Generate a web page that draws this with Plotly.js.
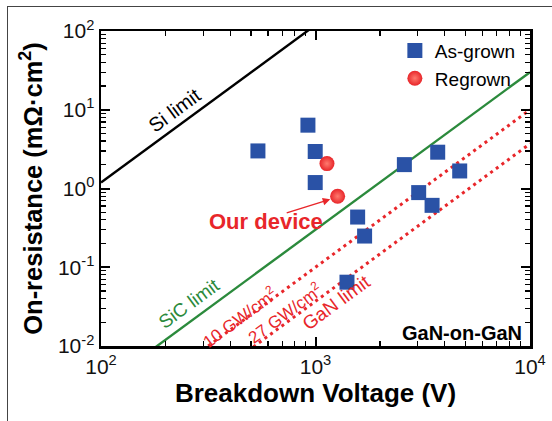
<!DOCTYPE html>
<html>
<head>
<meta charset="utf-8">
<script src="https://cdn.plot.ly/plotly-3.0.1.min.js"></script>
<style>
  html, body { margin: 0; padding: 0; background: #ffffff; }
  #wrap { position: relative; width: 552px; height: 421px; overflow: hidden; }
  #chart { position: absolute; left: 0; top: 0; width: 552px; height: 421px; }
  #frame { position: absolute; left: 7px; top: 6px; width: 600px; height: 500px;
           border-left: 1.5px solid #444; border-top: 1.5px solid #444; pointer-events: none; }
</style>
</head>
<body>
<div id="wrap">
  <div id="chart"></div>
  <div id="frame"></div>
</div>
<script>
// ---- data ----
const limitV = [100, 10000];               // breakdown voltage span of the limit lines (V)
const siLimit = [1.19, 11900];             // Si limit, mΩ·cm²
const sicLimit = [0.003, 30];              // SiC limit
const gan10 = [0.001, 10];                 // 10 GW/cm² line
const gan27 = [0.00037, 3.7];              // 27 GW/cm² (GaN limit)

const asGrownV = [539, 922, 997, 997, 1572, 1694, 1402, 2596, 3713, 3027, 3495, 4702];
const asGrownR = [3.0, 6.37, 2.95, 1.19, 0.434, 0.249, 0.0646, 2.01, 2.89, 0.887, 0.611, 1.67];
const regrownV = [1131, 1268];
const regrownR = [2.07, 0.796];

const tickVals = [0.01, 0.1, 1, 10, 100];
const yTickText = ['10<sup>-2</sup>', '10<sup>-1</sup>', '10<sup>0</sup>', '10<sup>1</sup>', '10<sup>2</sup>'];
const xTickVals = [100, 1000, 10000];
const xTickText = ['10<sup>2</sup>', '10<sup>3</sup>', '10<sup>4</sup>'];

const FONT = 'Liberation Sans, Arial, Helvetica, sans-serif';
const RED = '#e8262a';
const BLUE = '#2a52a6';
const GREEN = '#2b8a3c';

const traces = [
  { x: limitV, y: siLimit, mode: 'lines', line: { color: '#000', width: 2.4 }, showlegend: false, hoverinfo: 'skip' },
  { x: limitV, y: sicLimit, mode: 'lines', line: { color: GREEN, width: 2.4 }, showlegend: false, hoverinfo: 'skip' },
  { x: limitV, y: gan10, mode: 'lines', line: { color: RED, width: 3, dash: '3px,4px' }, showlegend: false, hoverinfo: 'skip' },
  { x: limitV, y: gan27, mode: 'lines', line: { color: RED, width: 3, dash: '3px,4px' }, showlegend: false, hoverinfo: 'skip' },
  { x: asGrownV, y: asGrownR, mode: 'markers', name: 'As-grown',
    marker: { symbol: 'square', size: 15, color: BLUE, line: { width: 0 } } },
  { x: regrownV, y: regrownR, mode: 'markers', name: 'Regrown',
    marker: { symbol: 'circle', size: 15, color: RED, line: { width: 0 },
              gradient: { type: 'radial', color: '#ff7a6e' } } }
];

const ROT = -36.3;
const lg = Math.log10;
const annotations = [
  { x: lg(221), y: lg(9.9), text: 'Si limit', textangle: ROT, showarrow: false,
    font: { family: FONT, size: 20, color: '#000' } },
  { x: lg(257.6), y: lg(0.0347), text: 'SiC limit', textangle: ROT, showarrow: false,
    font: { family: FONT, size: 19, color: GREEN } },
  { x: lg(441), y: lg(0.0232), text: '10 GW/cm<sup>2</sup>', textangle: ROT, showarrow: false,
    font: { family: FONT, size: 17, color: RED } },
  { x: lg(714), y: lg(0.0266), text: '27 GW/cm<sup>2</sup>', textangle: ROT, showarrow: false,
    font: { family: FONT, size: 17, color: RED } },
  { x: lg(1250), y: lg(0.0356), text: 'GaN limit', textangle: ROT, showarrow: false,
    font: { family: FONT, size: 19, color: RED } },
  { x: lg(590), y: lg(0.383), text: '<b>Our device</b>', showarrow: false,
    font: { family: FONT, size: 22, color: RED } },
  { x: 3.0688, y: -0.1374, ax: 2.8588, ay: -0.3155, axref: 'x', ayref: 'y', text: '',
    showarrow: true, arrowcolor: RED, arrowwidth: 1.5, arrowhead: 2, arrowsize: 1, standoff: 0 },
  { xref: 'paper', yref: 'paper', x: 0.986, y: 0.041, xanchor: 'right', yanchor: 'middle',
    text: '<b>GaN-on-GaN</b>', showarrow: false, font: { family: FONT, size: 20, color: '#000' } }
];

const axisCommon = {
  type: 'log', showgrid: false, zeroline: false, showline: true, linecolor: '#000', linewidth: 2.5,
  mirror: 'ticks', ticks: 'inside', ticklen: 9, tickwidth: 2, tickcolor: '#000',
  tickmode: 'array',
  tickfont: { family: FONT, size: 21, color: '#111' },
  minor: { ticks: 'inside', ticklen: 5, tickwidth: 1.2, tickcolor: '#000', dtick: 'D1', showgrid: false }
};

const layout = {
  width: 552, height: 421,
  margin: { l: 101, r: 22, t: 31, b: 75 },
  paper_bgcolor: '#ffffff', plot_bgcolor: '#ffffff',
  font: { family: FONT, color: '#000' },
  xaxis: Object.assign({}, axisCommon, {
    range: [2, 4], tickvals: xTickVals, ticktext: xTickText,
    title: { text: '<b>Breakdown Voltage (V)</b>', font: { family: FONT, size: 26, color: '#000' }, standoff: 3 }
  }),
  yaxis: Object.assign({}, axisCommon, {
    range: [-2, 2], tickvals: tickVals, ticktext: yTickText,
    title: { text: '<b>On-resistance (mΩ·cm<sup>2</sup>)</b>', font: { family: FONT, size: 25.5, color: '#000' }, standoff: 8 }
  }),
  legend: { x: 0.685, y: 0.998, xanchor: 'left', yanchor: 'top', bgcolor: 'rgba(0,0,0,0)',
            font: { family: FONT, size: 19, color: '#000' }, tracegroupgap: 0, itemsizing: 'trace' },
  annotations: annotations,
  showlegend: true
};

Plotly.newPlot('chart', traces, layout, { displayModeBar: false, staticPlot: true });
</script>
</body>
</html>
